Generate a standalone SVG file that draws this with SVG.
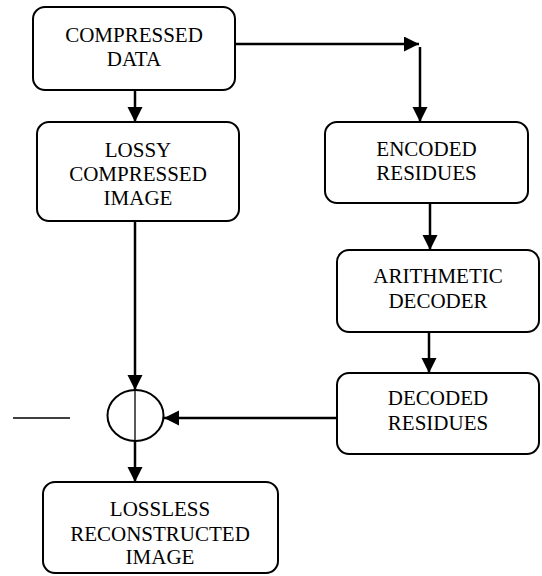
<svg xmlns="http://www.w3.org/2000/svg" width="542" height="576" viewBox="0 0 542 576">
<defs>
<style>
.box{fill:#fff;stroke:#000;stroke-width:2}
.t{font-size:21px;fill:#000;text-anchor:middle}
.c{stroke:#000;stroke-width:2.5;fill:none}
.thin{stroke:#000;stroke-width:1.3;fill:none}
</style>
<marker id="ah" markerUnits="userSpaceOnUse" markerWidth="16" markerHeight="16" refX="15" refY="7.5" orient="auto">
<path d="M0,0 L15,7.5 L0,15 Z" fill="#000"/>
</marker>
</defs>
<g id="connectors">
<line class="c" x1="135" y1="90" x2="135" y2="122" marker-end="url(#ah)"/>
<line class="c" x1="235" y1="44" x2="419" y2="44" marker-end="url(#ah)"/>
<line class="c" x1="420" y1="47" x2="420" y2="122" marker-end="url(#ah)"/>
<line class="c" x1="430" y1="203" x2="430" y2="250" marker-end="url(#ah)"/>
<line class="c" x1="429" y1="332" x2="429" y2="373" marker-end="url(#ah)"/>
<line class="c" x1="337" y1="418" x2="164" y2="418" marker-end="url(#ah)"/>
<line class="c" x1="135" y1="221" x2="135" y2="390" marker-end="url(#ah)"/>
<line class="c" x1="135" y1="441" x2="135" y2="482" marker-end="url(#ah)"/>
<line class="thin" x1="135" y1="390" x2="135" y2="441"/>
<line class="thin" x1="13" y1="418" x2="70" y2="418"/>
</g>
<g id="adder">
<ellipse cx="135.5" cy="415.5" rx="28" ry="25.5" fill="none" stroke="#000" stroke-width="2"/>
</g>
<g font-family="'Liberation Serif', 'DejaVu Serif', serif">
<g id="compressed-data">
<rect class="box" x="33" y="7" width="202" height="83" rx="12"/>
<text class="t" x="134" y="42">COMPRESSED</text>
<text class="t" x="134" y="66">DATA</text>
</g>
<g id="lossy-image">
<rect class="box" x="37" y="122" width="202" height="99" rx="12"/>
<text class="t" x="138" y="157">LOSSY</text>
<text class="t" x="138" y="181">COMPRESSED</text>
<text class="t" x="138" y="205">IMAGE</text>
</g>
<g id="encoded-residues">
<rect class="box" x="325" y="122" width="203" height="81" rx="12"/>
<text class="t" x="426.5" y="156">ENCODED</text>
<text class="t" x="426.5" y="180">RESIDUES</text>
</g>
<g id="arithmetic-decoder">
<rect class="box" x="337" y="250" width="202" height="82" rx="12"/>
<text class="t" x="438" y="283">ARITHMETIC</text>
<text class="t" x="438" y="308">DECODER</text>
</g>
<g id="decoded-residues">
<rect class="box" x="337" y="373" width="202" height="81" rx="12"/>
<text class="t" x="438" y="405">DECODED</text>
<text class="t" x="438" y="430">RESIDUES</text>
</g>
<g id="lossless-image">
<rect class="box" x="43" y="482" width="235" height="91" rx="12"/>
<text class="t" x="160" y="516">LOSSLESS</text>
<text class="t" x="160" y="541">RECONSTRUCTED</text>
<text class="t" x="160" y="564">IMAGE</text>
</g>
</g>
</svg>
